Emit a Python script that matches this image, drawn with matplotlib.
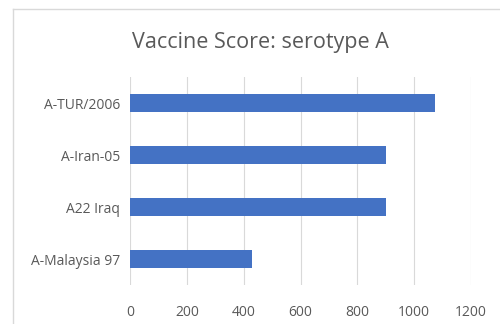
import matplotlib.pyplot as plt
from matplotlib.lines import Line2D

labels = ['A-Malaysia 97', 'A22 Iraq', 'A-Iran-05', 'A-TUR/2006']
scores = [430, 900, 900, 1075]
xticks = [0, 200, 400, 600, 800, 1000, 1200]

plt.rcParams['font.family'] = ['Open Sans', 'DejaVu Sans']

fig = plt.figure(figsize=(5, 3.24), dpi=100)
fig.patch.set_facecolor('white')

# chart area frame (top and left edges only, the rest runs off the figure)
fx, fy = 13 / 500, 1 - 9 / 324
fig.lines.append(Line2D([fx, 1.0], [fy, fy], transform=fig.transFigure,
                        color='#d9d9d9', linewidth=1.0))
fig.lines.append(Line2D([fx, fx], [0.0, fy], transform=fig.transFigure,
                        color='#d9d9d9', linewidth=1.0))

ax = fig.add_axes([0.26, 0.12, 0.682, 0.642])
ax.barh(range(len(labels)), scores, height=0.34, color='#4472C4')

ax.set_xlim(0, 1200)
ax.set_ylim(-0.5, len(labels) - 0.5)
ax.set_xticks(xticks)
ax.set_yticks(range(len(labels)))
ax.set_yticklabels(labels)
ax.grid(axis='x', color='#d9d9d9', linewidth=0.8)
ax.set_axisbelow(True)
for s in ax.spines.values():
    s.set_visible(False)
ax.tick_params(length=0, labelsize=10, colors='#595959', pad=7)
ax.tick_params(axis='x', pad=14)

fig.text(0.52, 0.87, 'Vaccine Score: serotype A', ha='center', va='center',
         fontsize=15.5, color='#595959')

fig.savefig('out.png', dpi=100)
